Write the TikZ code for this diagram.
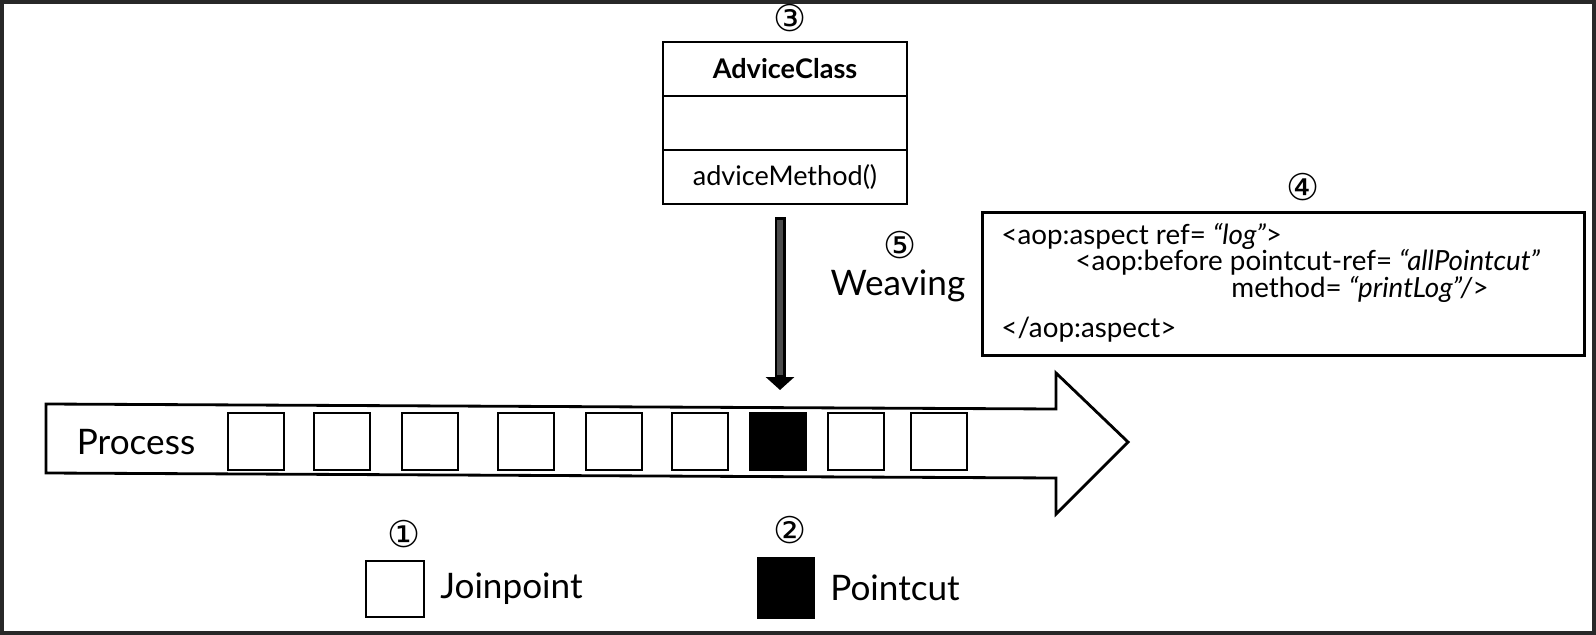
\documentclass[tikz,border=0pt]{standalone}
\usepackage{fontspec}
\setmainfont{Lato}
\newfontfamily\circfont{DejaVu Sans}
\usepackage{tikz}
\usetikzlibrary{calc, positioning, arrows.meta}
\definecolor{FrameColor}{RGB}{40, 40, 40}
\definecolor{WeaveColor}{RGB}{75, 75, 75}

\begin{document}
\begin{tikzpicture}[>=Stealth, thick,
  big/.style={font=\fontsize{10}{12}\selectfont, inner sep=1pt},
  codetxt/.style={font=\fontsize{7.9}{9}\selectfont, inner sep=0pt, anchor=west},
  num/.style={font=\circfont\fontsize{10.5}{11}\selectfont, inner sep=0pt},
  part/.style={draw, minimum width=2.44cm, minimum height=0.54cm, outer sep=0pt, font=\fontsize{7.7}{9}\selectfont},
  jp/.style={draw, minimum width=0.56cm, minimum height=0.57cm},
  pc/.style={jp, fill=black},
  weave/.style={line width=0.11cm, -{Triangle[width=0.28cm, length=0.13cm]}},
  weavefill/.style={line width=0.06cm, WeaveColor, shorten >=0.15cm, shorten <=0.025cm},
  flow/.style={draw, thick, fill=white}]

\useasboundingbox (0,0) rectangle (15.96,-6.35);
\draw[FrameColor, line width=0.08cm] (0,0) rectangle (15.96,-6.35);

% advice class
\node[part, font=\bfseries\fontsize{7.7}{9}\selectfont] (cname) at (7.85,-0.69) {AdviceClass};
\node[part, below=0pt of cname] (cattr) {};
\node[part, below=0pt of cattr] (cmeth) {adviceMethod()};
\node[num] (n3) at (7.90,-0.18) {③};

% weaving
\coordinate (wtop) at ($(cmeth.south)+(-0.05,-0.13)$);
\coordinate (wtip) at (wtop |- 0,-3.90);
\draw[weave] (wtop) -- (wtip);
\draw[weavefill] (wtop) -- (wtip);

\node[big] (weaving) at (8.98,-2.86) {Weaving};
\node[num] (n5) at (9.00,-2.45) {⑤};

% aspect config
\node[draw, minimum width=6.02cm, minimum height=1.43cm, anchor=north west] (code) at (9.81,-2.11) {};
\node[num] (n4) at (13.03,-1.87) {④};
\node[codetxt] (l1) at ($(code.north west)+(0.19,-0.25)$) {<aop:aspect ref= \textit{``log''}>};
\node[codetxt] (l2) at ($(code.north west)+(0.93,-0.51)$) {<aop:before pointcut-ref= \textit{``allPointcut''}};
\node[codetxt] (l3) at ($(code.north west)+(2.49,-0.78)$) {method= \textit{``printLog''/}>};
\node[codetxt] (l4) at ($(code.north west)+(0.19,-1.19)$) {</aop:aspect>};

% process
\draw[flow] (0.46,-4.04) -- (10.56,-4.09) -- (10.56,-3.73) -- (11.28,-4.42) -- (10.56,-5.14) -- (10.56,-4.78) -- (0.46,-4.73) -- cycle;
\node[big, anchor=west] (process) at (0.72,-4.42) {Process};

\node[jp] (jp1) at (2.56,-4.415) {};
\node[jp] (jp2) at (3.42,-4.415) {};
\node[jp] (jp3) at (4.30,-4.415) {};
\node[jp] (jp4) at (5.26,-4.415) {};
\node[jp] (jp5) at (6.14,-4.415) {};
\node[jp] (jp6) at (7.00,-4.415) {};
\node[pc] (jp7) at (7.78,-4.415) {};
\node[jp] (jp8) at (8.56,-4.415) {};
\node[jp] (jp9) at (9.39,-4.415) {};

% legend
\node[jp, minimum width=0.58cm, minimum height=0.56cm] (jpkey) at (3.95,-5.89) {};
\node[num] (n1) at (4.04,-5.34) {①};
\node[big, right=0.1cm of jpkey] (jptext) {Joinpoint};

\node[pc, minimum height=0.6cm] (pckey) at (7.86,-5.88) {};
\node[num] (n2) at (7.90,-5.30) {②};
\node[big, right=0.1cm of pckey] (pctext) {Pointcut};

\end{tikzpicture}
\end{document}
